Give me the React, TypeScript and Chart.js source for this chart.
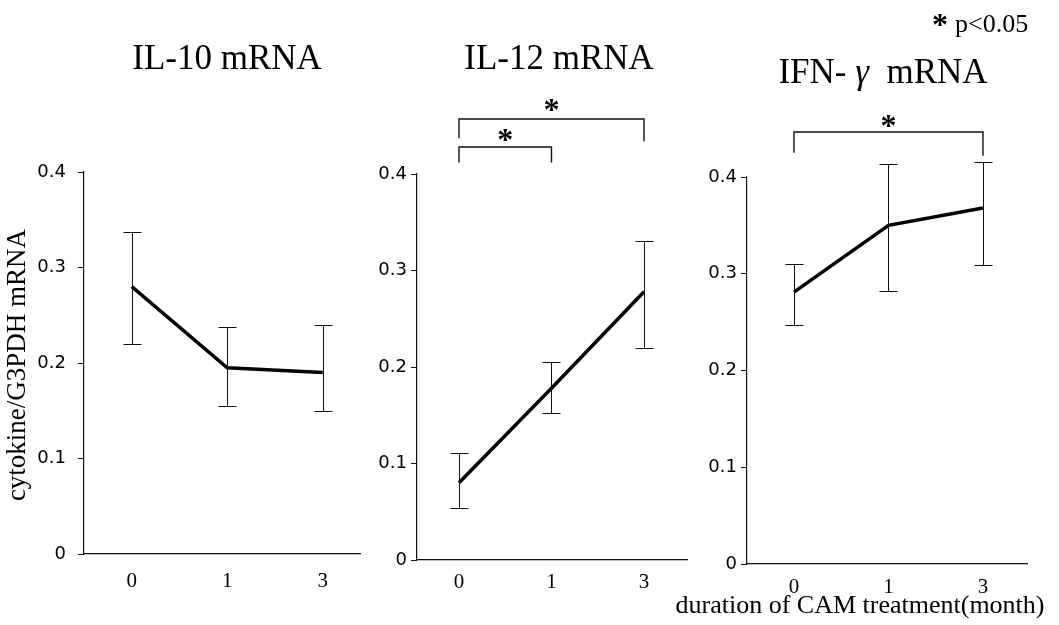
import React, { useEffect, useRef } from "react";
import { Chart, registerables } from "chart.js";

Chart.register(...registerables);

// ---- data ----
const monthLabels = ["0", "1", "3"];
const yTicks = [0, 0.1, 0.2, 0.3, 0.4];

const il10Mean = [0.28, 0.195, 0.19];
const il10Upper = [0.337, 0.238, 0.24];
const il10Lower = [0.22, 0.155, 0.15];

const il12Mean = [0.08, 0.178, 0.278];
const il12Upper = [0.111, 0.205, 0.331];
const il12Lower = [0.054, 0.152, 0.22];

const ifngMean = [0.281, 0.35, 0.368];
const ifngUpper = [0.31, 0.413, 0.415];
const ifngLower = [0.247, 0.282, 0.309];

const H = 625;
const SERIF = '"Liberation Serif", "Times New Roman", serif';
const SANS = '"DejaVu Sans", sans-serif';

type Bracket = { from: number; to: number; top: number; dropL: number; dropR: number; starY: number };
type TitlePart = { text: string; italic?: boolean };

type PanelCfg = {
  key: string;
  left: number;
  width: number;
  titleParts: TitlePart[];
  titleX: number;
  titleY: number;
  mean: number[];
  upper: number[];
  lower: number[];
  pad: { left: number; right: number; top: number; bottom: number };
  yW: number;
  xH: number;
  xMin: number;
  xMax: number;
  yPad: number;
  xPad: number;
  brackets: Bracket[];
  yLabel?: boolean;
  xTitle?: boolean;
  legend?: boolean;
};

const panels: PanelCfg[] = [
  {
    key: "il10",
    left: 0,
    width: 370,
    titleParts: [{ text: "IL-10 mRNA" }],
    titleX: 227,
    titleY: 69,
    mean: il10Mean,
    upper: il10Upper,
    lower: il10Lower,
    pad: { left: 0, right: 10, top: 172, bottom: 0 },
    yW: 84,
    xH: 71,
    xMin: -0.5,
    xMax: 2.39,
    yPad: 12,
    xPad: 15,
    brackets: [],
    yLabel: true,
  },
  {
    key: "il12",
    left: 370,
    width: 330,
    titleParts: [{ text: "IL-12 mRNA" }],
    titleX: 559,
    titleY: 69,
    mean: il12Mean,
    upper: il12Upper,
    lower: il12Lower,
    pad: { left: 0, right: 13, top: 174, bottom: 0 },
    yW: 47,
    xH: 65,
    xMin: -0.454,
    xMax: 2.465,
    yPad: 4,
    xPad: 10,
    brackets: [
      { from: 0, to: 2, top: 0.457, dropL: 0.437, dropR: 0.434, starY: 0.4715 },
      { from: 0, to: 1, top: 0.428, dropL: 0.412, dropR: 0.412, starY: 0.44 },
    ],
  },
  {
    key: "ifng",
    left: 650,
    width: 409,
    titleParts: [{ text: "IFN- " }, { text: "\u03B3", italic: true }, { text: "  mRNA" }],
    titleX: 883,
    titleY: 83,
    mean: ifngMean,
    upper: ifngUpper,
    lower: ifngLower,
    pad: { left: 0, right: 32, top: 177, bottom: 0 },
    yW: 97,
    xH: 61,
    xMin: -0.497,
    xMax: 2.466,
    yPad: 4,
    xPad: 11,
    brackets: [{ from: 0, to: 2, top: 0.4465, dropL: 0.425, dropR: 0.422, starY: 0.458 }],
    xTitle: true,
    legend: true,
  },
];

function makeDecor(cfg: PanelCfg) {
  return {
    id: "decor_" + cfg.key,
    afterDatasetsDraw(chart: any) {
      const { ctx } = chart;
      const x = chart.scales.x;
      const y = chart.scales.y;
      ctx.save();
      ctx.strokeStyle = "#111";
      ctx.lineWidth = 1;
      const cap = 9;
      cfg.mean.forEach((_, i) => {
        const px = Math.round(x.getPixelForValue(i)) + 0.5;
        const yt = Math.round(y.getPixelForValue(cfg.upper[i])) + 0.5;
        const yb = Math.round(y.getPixelForValue(cfg.lower[i])) + 0.5;
        ctx.beginPath();
        ctx.moveTo(px, yt);
        ctx.lineTo(px, yb);
        ctx.moveTo(px - cap, yt);
        ctx.lineTo(px + cap, yt);
        ctx.moveTo(px - cap, yb);
        ctx.lineTo(px + cap, yb);
        ctx.stroke();
      });
      ctx.restore();
    },
    afterDraw(chart: any) {
      const { ctx } = chart;
      const x = chart.scales.x;
      const y = chart.scales.y;
      ctx.save();
      ctx.fillStyle = "#000";
      // title
      const parts = cfg.titleParts;
      const fontFor = (p: TitlePart) => (p.italic ? "italic " : "") + "35px " + SERIF;
      let total = 0;
      parts.forEach((p) => {
        ctx.font = fontFor(p);
        total += ctx.measureText(p.text).width;
      });
      let cx = cfg.titleX - cfg.left - total / 2;
      ctx.textAlign = "left";
      ctx.textBaseline = "alphabetic";
      parts.forEach((p) => {
        ctx.font = fontFor(p);
        ctx.fillText(p.text, cx, cfg.titleY);
        cx += ctx.measureText(p.text).width;
      });

      // significance brackets
      ctx.strokeStyle = "#111";
      ctx.lineWidth = 1.4;
      cfg.brackets.forEach((b) => {
        const xl = x.getPixelForValue(b.from);
        const xr = x.getPixelForValue(b.to);
        const yt = y.getPixelForValue(b.top);
        ctx.beginPath();
        ctx.moveTo(xl, y.getPixelForValue(b.dropL));
        ctx.lineTo(xl, yt);
        ctx.lineTo(xr, yt);
        ctx.lineTo(xr, y.getPixelForValue(b.dropR));
        ctx.stroke();
        ctx.font = "bold 32px " + SERIF;
        ctx.textAlign = "center";
        ctx.textBaseline = "alphabetic";
        ctx.fillText("*", (xl + xr) / 2, y.getPixelForValue(b.starY) + 15);
      });

      if (cfg.yLabel) {
        ctx.save();
        ctx.translate(18, 365);
        ctx.rotate(-Math.PI / 2);
        ctx.font = "27px " + SERIF;
        ctx.textAlign = "center";
        ctx.textBaseline = "middle";
        ctx.fillText("cytokine/G3PDH mRNA", 0, 0);
        ctx.restore();
      }
      if (cfg.xTitle) {
        ctx.font = "26px " + SERIF;
        ctx.textAlign = "center";
        ctx.textBaseline = "alphabetic";
        ctx.fillText("duration of CAM treatment(month)", 860 - cfg.left, 613);
      }
      if (cfg.legend) {
        ctx.font = "bold 32px " + SERIF;
        ctx.textAlign = "center";
        ctx.textBaseline = "alphabetic";
        ctx.fillText("*", 940 - cfg.left, 35);
        ctx.font = "26px " + SERIF;
        ctx.textAlign = "left";
        ctx.fillText("p<0.05", 955 - cfg.left, 32);
      }
      ctx.restore();
    },
  };
}

function Panel({ cfg }: { cfg: PanelCfg }) {
  const ref = useRef<HTMLCanvasElement>(null);
  useEffect(() => {
    const canvas = ref.current!;
    const chart = new Chart(canvas, {
      type: "line",
      data: {
        datasets: [
          {
            data: cfg.mean.map((v, i) => ({ x: i, y: v })),
            borderColor: "#000",
            borderWidth: 3.5,
            pointRadius: 0,
            tension: 0,
            fill: false,
          },
        ],
      },
      options: {
        animation: false,
        responsive: false,
        devicePixelRatio: 1,
        layout: { padding: cfg.pad },
        plugins: { legend: { display: false }, tooltip: { enabled: false }, title: { display: false } },
        scales: {
          x: {
            type: "linear",
            min: cfg.xMin,
            max: cfg.xMax,
            afterBuildTicks: (s: any) => {
              s.ticks = monthLabels.map((_, i) => ({ value: i }));
            },
            afterFit: (s: any) => {
              s.height = cfg.xH;
            },
            ticks: {
              callback: (v: any) => monthLabels[v as number] ?? "",
              font: { family: SERIF, size: 21 },
              color: "#000",
              padding: cfg.xPad,
              maxRotation: 0,
            },
            grid: { drawOnChartArea: false, drawTicks: false, color: "#111" },
            border: { display: true, color: "#111", width: 1.2 },
          },
          y: {
            type: "linear",
            min: 0,
            max: 0.4,
            afterBuildTicks: (s: any) => {
              s.ticks = yTicks.map((v) => ({ value: v }));
            },
            afterFit: (s: any) => {
              s.width = cfg.yW;
            },
            ticks: {
              callback: (v: any) => String(v),
              font: { family: SANS, size: 18 },
              color: "#000",
              padding: cfg.yPad,
            },
            grid: { drawOnChartArea: false, drawTicks: true, tickLength: 6, color: "#111" },
            border: { display: true, color: "#111", width: 1.2 },
          },
        },
      },
      plugins: [makeDecor(cfg)],
    } as any);
    return () => chart.destroy();
  }, []);
  return (
    <canvas
      ref={ref}
      width={cfg.width}
      height={H}
      style={{ position: "absolute", left: cfg.left, top: 0, width: cfg.width, height: H }}
    />
  );
}

export default function App() {
  return (
    <div style={{ position: "absolute", left: 0, top: 0, width: 1059, height: H, background: "#fff" }}>
      {panels.map((p) => (
        <Panel key={p.key} cfg={p} />
      ))}
    </div>
  );
}
